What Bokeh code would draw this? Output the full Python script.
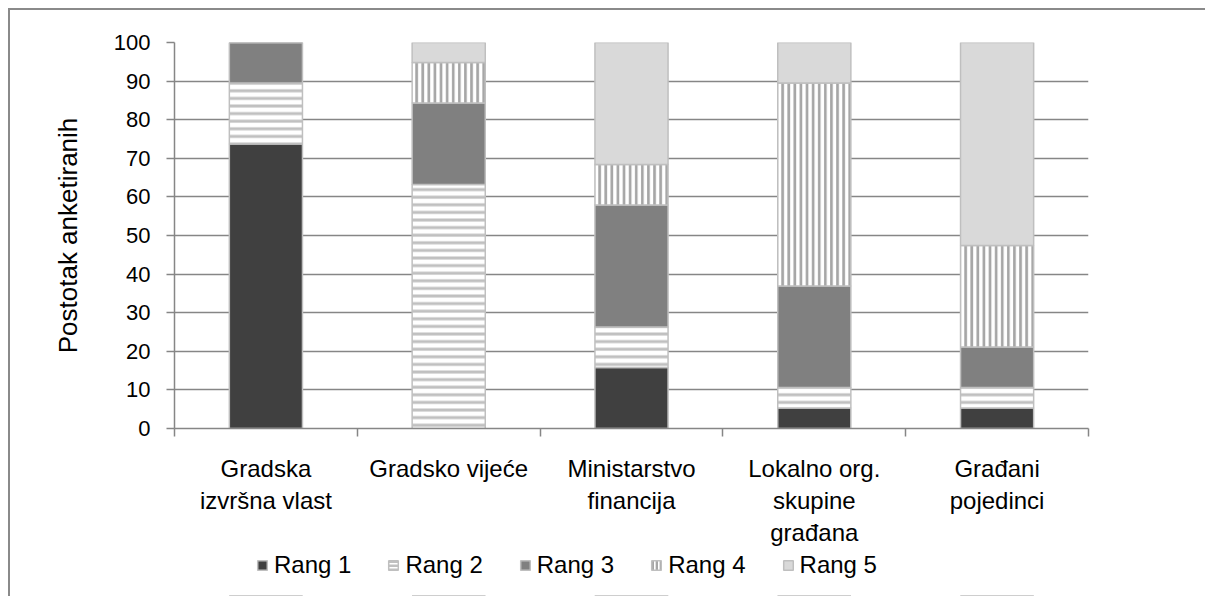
from bokeh.plotting import figure
from bokeh.layouts import column
from bokeh.models import FixedTicker, Legend, LegendItem, ColumnDataSource, Range1d
from bokeh.embed import file_html
from bokeh.resources import INLINE

categories = ["Gradska\nizvršna vlast", "Gradsko vijeće", "Ministarstvo\nfinancija",
              "Lokalno org.\nskupine\ngrađana", "Građani\npojedinci"]
series = ["Rang 1", "Rang 2", "Rang 3", "Rang 4", "Rang 5"]
rang1 = [73.7, 0.0, 15.8, 5.3, 5.3]
rang2 = [15.8, 63.2, 10.5, 5.3, 5.3]
rang3 = [10.5, 21.1, 31.6, 26.3, 10.5]
rang4 = [0.0, 10.5, 10.5, 52.6, 26.3]
rang5 = [0.0, 5.3, 31.6, 10.5, 52.6]
y_ticks = [0, 10, 20, 30, 40, 50, 60, 70, 80, 90, 100]

FONT = "Liberation Sans"
GRID = "#868686"

keys = ["r1", "r2", "r3", "r4", "r5"]
xpos = [i + 0.5 for i in range(len(categories))]
src = ColumnDataSource(dict(x=xpos, r1=rang1, r2=rang2, r3=rang3, r4=rang4, r5=rang5))

styles = [
    dict(fill_color="#404040", hatch_pattern=None),
    dict(fill_color="white", hatch_pattern="horizontal_line", hatch_color="#c0c0c0",
         hatch_scale=7.6, hatch_weight=3),
    dict(fill_color="#808080", hatch_pattern=None),
    dict(fill_color="white", hatch_pattern="vertical_line", hatch_color="#a6a6a6",
         hatch_scale=6.1, hatch_weight=2.7),
    dict(fill_color="#d9d9d9", hatch_pattern=None),
]


def stack(fig, source, hatch_scales=None):
    return fig.vbar_stack(keys, x="x", width=0.4, source=source,
                          fill_color=[s["fill_color"] for s in styles],
                          hatch_pattern=[s.get("hatch_pattern") for s in styles],
                          hatch_color=[s.get("hatch_color", "black") for s in styles],
                          hatch_scale=hatch_scales or [s.get("hatch_scale", 12) for s in styles],
                          hatch_weight=[s.get("hatch_weight", 1) for s in styles],
                          line_color="#bfbfbf", line_width=1.5)


p = figure(width=1195, height=540, output_backend="svg", toolbar_location=None,
           x_range=Range1d(0, len(categories)), y_range=Range1d(0, 100),
           min_border_left=164, min_border_top=32, min_border_right=117,
           min_border_bottom=122)
p.outline_line_color = None
stack(p, src)

# y axis
p.yaxis.ticker = FixedTicker(ticks=y_ticks)
p.yaxis.axis_line_color = GRID
p.yaxis.axis_line_width = 1.5
p.yaxis.major_tick_line_color = GRID
p.yaxis.major_tick_line_width = 1.5
p.yaxis.major_tick_out = 8
p.yaxis.major_tick_in = 0
p.yaxis.minor_tick_line_color = None
p.yaxis.major_label_text_font = FONT
p.yaxis.major_label_text_font_size = "22px"
p.yaxis.major_label_text_color = "#000000"
p.yaxis.major_label_standoff = 16
p.yaxis.axis_label = "Postotak anketiranih"
p.yaxis.axis_label_text_font = FONT
p.yaxis.axis_label_text_font_size = "26px"
p.yaxis.axis_label_text_font_style = "normal"
p.yaxis.axis_label_text_color = "#000000"
p.yaxis.axis_label_standoff = 28

p.ygrid.ticker = FixedTicker(ticks=y_ticks)
p.ygrid.grid_line_color = GRID
p.ygrid.grid_line_width = 1.5
p.xgrid.visible = False

# x axis: labels at centers, tick marks at category boundaries
p.xaxis.ticker = FixedTicker(ticks=xpos, minor_ticks=list(range(len(categories) + 1)))
p.xaxis.major_label_overrides = {x: c for x, c in zip(xpos, categories)}
p.xaxis.axis_line_color = GRID
p.xaxis.axis_line_width = 1.5
p.xaxis.major_tick_line_color = None
p.xaxis.minor_tick_line_color = GRID
p.xaxis.minor_tick_line_width = 1.5
p.xaxis.minor_tick_out = 8
p.xaxis.minor_tick_in = 0
p.xaxis.major_label_text_font = FONT
p.xaxis.major_label_text_font_size = "24px"
p.xaxis.major_label_text_color = "#000000"
p.xaxis.major_label_standoff = 18
p.xaxis.major_label_text_align = "center"

# legend strip below the chart (its bars lie outside its view; only swatches show)
q = figure(width=1195, height=46, output_backend="svg", toolbar_location=None,
           x_range=Range1d(0, len(categories)), y_range=Range1d(1000, 1001),
           x_axis_location=None, y_axis_location=None,
           min_border_left=164, min_border_right=117,
           min_border_top=0, min_border_bottom=0)
q.outline_line_color = None
q.grid.visible = False
leg_renderers = stack(q, src, hatch_scales=[12, 4, 12, 4, 12])
legend = Legend(items=[LegendItem(label=s, renderers=[r]) for s, r in zip(series, leg_renderers)],
                orientation="horizontal", location=(82, 17),
                label_text_font=FONT, label_text_font_size="24px",
                label_text_color="#000000",
                glyph_width=12, glyph_height=12, label_standoff=6,
                spacing=36, padding=0, margin=0,
                border_line_color=None, background_fill_alpha=0)
q.add_layout(legend, "center")

layout = column(p, q, spacing=0)
layout.styles = {"border-top": "2px solid #8a8a8a", "border-left": "2px solid #8a8a8a",
                 "margin-left": "8px", "margin-top": "8px"}

open("out.html", "w").write(file_html(layout, INLINE))
